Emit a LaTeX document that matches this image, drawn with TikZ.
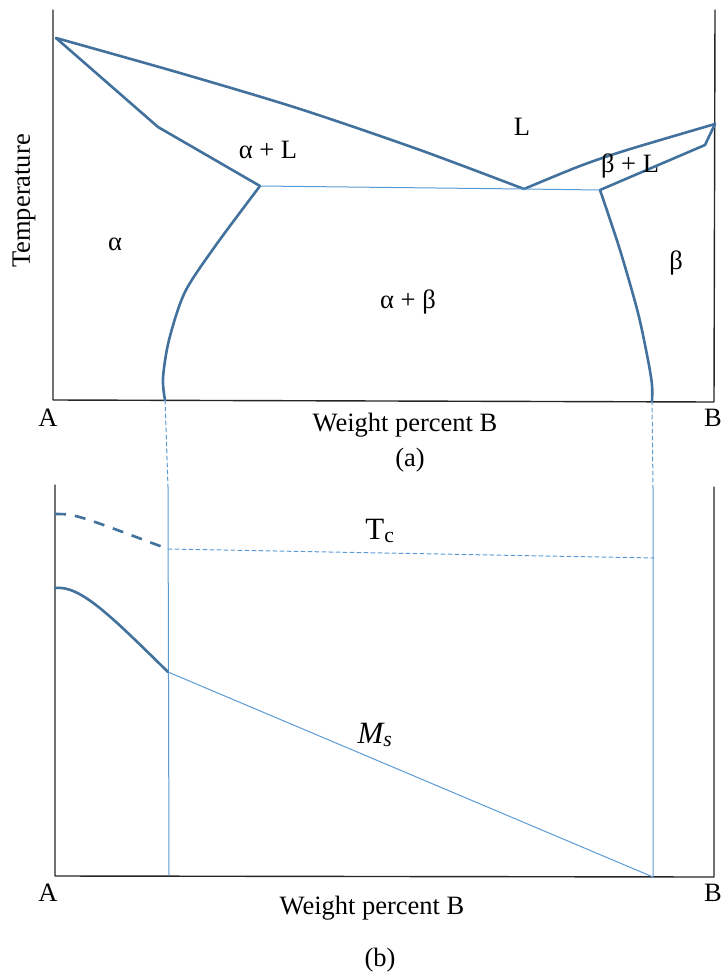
\documentclass[tikz,border=0pt]{standalone}
\usepackage{fontspec}
\setmainfont{Liberation Serif}
\definecolor{curveblue}{RGB}{65,113,156}
\definecolor{lineblue}{RGB}{91,155,213}
\tikzset{phase/.style={curveblue,line width=2.6pt},
	tie/.style={lineblue,line width=1pt},
	axis/.style={black!85,line width=1.4pt}}
\begin{document}
\begin{tikzpicture}[x=1pt,y=-1pt,line join=round,line cap=round,font=\fontsize{26.5}{30}\selectfont]
	\useasboundingbox (0,0) rectangle (721,974);
	% (a) phase diagram
	\path (53,10) coordinate (Ta)
	(53,400) coordinate (Oa)
	(714,402) coordinate (Ra)
	(715,10) coordinate (Qa);
	\path (56,38) coordinate (mA)
	(715,124) coordinate (mB)
	(524,189) coordinate (E)
	(260,186) coordinate (P)
	(600,190) coordinate (Q)
	(165,400) coordinate (S1)
	(652,401) coordinate (S2);
	\draw[axis] (Ta)--(Oa)--(Ra)--(Qa);
	\draw[phase] plot[smooth] coordinates {(56,38) (180,73) (300,109) (420,150) (524,189)};
	\draw[phase] (mA)--(158,127)--(P);
	\draw[phase] plot[smooth] coordinates {(260,186) (216,245) (185,292) (169,340) (163,378) (165,400)};
	\draw[phase] plot[smooth] coordinates {(524,189) (580,166) (627,150) (715,124)};
	\draw[phase] (Q)--(705,145)--(mB);
	\draw[phase] plot[smooth] coordinates {(600,190) (620,250) (638,313) (648,360) (652,385) (652,401)};
	\draw[tie] (P)--(E)--(Q);
	% projection of the solvus ends
	\path (168,487) coordinate (V1) (653,488) coordinate (V2);
	\draw[tie,dash pattern=on 4pt off 3pt] (S1)--(V1) (S2)--(V2);
	% (b) transformation temperatures
	\path (55,485) coordinate (Tb)
	(55,876) coordinate (Ob)
	(714,877) coordinate (Rb)
	(714,487) coordinate (Qb)
	(169,875) coordinate (W1)
	(653,877) coordinate (W2)
	(55,514) coordinate (Tc0)
	(168,549) coordinate (Tc1)
	(654,558) coordinate (Tc2)
	(55,588) coordinate (Ms0)
	(168,672) coordinate (Ms1);
	\draw[axis] (Tb)--(Ob)--(Rb)--(Qb);
	\draw[tie] (V1)--(W1) (V2)--(W2);
	\draw[phase,dash pattern=on 11pt off 9pt,line cap=butt] (Tc0) .. controls (75,514) .. (Tc1);
	\draw[tie,dash pattern=on 4pt off 3pt] (Tc1)--(Tc2);
	\draw[phase] (Ms0) .. controls (80,585) and (110,615) .. (Ms1);
	\draw[tie] (Ms1)--(W2);
	% labels
	\foreach \x/\y/\t/\n in {115/244/α/alpha,268/150/α + L/alphaL,522/127/L/liq,630/166/β + L/betaL,
		676/263/β/beta,408/302/α + β/alphabeta,48/418/A/Aa,713/418/B/Ba,48/893/A/Ab,713/893/B/Bb
	}{\node (\n) at (\x,\y) {\t};}
	\node[rotate=90] (temp) at (24,201) {Temperature};
	\node (wa) at (405,425) {Weight percent B};
	\node (capa) at (410,460) {(a)};
	\node[font=\fontsize{31}{34}\selectfont] (tc) at (380,531) {T\textsubscript{c}};
	\node[font=\fontsize{31}{34}\selectfont] (ms) at (375,735) {\textit{M\textsubscript{s}}};
	\node (wb) at (372,908) {Weight percent B};
	\node (capb) at (380,960) {(b)};
\end{tikzpicture}
\end{document}
